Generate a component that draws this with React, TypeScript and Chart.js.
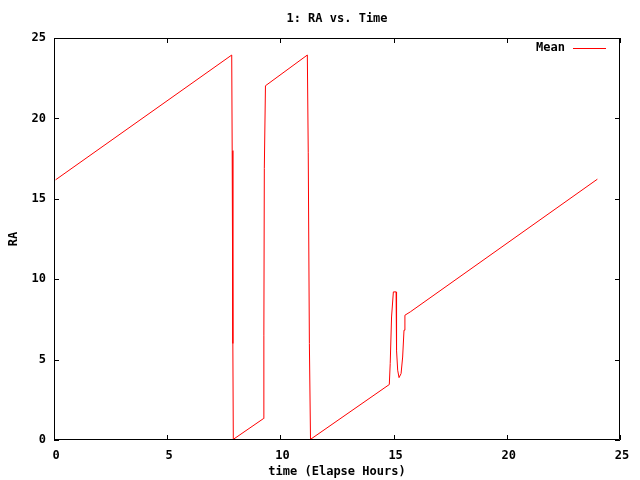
import React, { useEffect, useRef } from "react";
import { Chart, registerables } from "chart.js";

Chart.register(...registerables);

const chartTitle = "1: RA vs. Time";
const xAxisTitle = "time (Elapse Hours)";
const yAxisTitle = "RA";
const seriesLabel = "Mean";

const times = [0.07, 7.85, 7.87, 7.9, 7.92, 9.25, 9.27, 9.29, 9.34, 11.19, 11.23, 11.28, 11.33, 14.81, 14.85, 14.91, 14.99, 15.11, 15.13, 15.18, 15.24, 15.33, 15.4, 15.46, 15.5, 15.74, 24.0];
const meanRA = [16.18, 23.94, 18.0, 6.0, 0.04, 1.33, 6.52, 16.89, 22.03, 23.94, 17.86, 6.0, 0.04, 3.45, 4.75, 7.65, 9.21, 9.21, 5.58, 4.34, 3.88, 4.13, 5.16, 6.83, 7.76, 7.97, 16.22];

const xMin = 0;
const xMax = 25;
const yMin = 0;
const yMax = 25;
const tickStep = 5;

const FONT = "'DejaVu Sans Mono', 'Liberation Mono', monospace";
const LINE_COLOR = "#ff0000";

const framePlugin = {
  id: "gnuplotFrame",
  afterDatasetsDraw(chart: any) {
    const { ctx, chartArea, scales } = chart;
    const { left, right, top, bottom } = chartArea;
    ctx.save();
    ctx.strokeStyle = "#000000";
    ctx.lineWidth = 1;
    ctx.beginPath();
    ctx.rect(left + 0.5, top + 0.5, right - left - 1, bottom - top - 1);
    ctx.stroke();
    const tl = 5;
    ctx.beginPath();
    scales.x.ticks.forEach((t: any) => {
      const px = Math.round(scales.x.getPixelForValue(t.value)) + 0.5;
      ctx.moveTo(px, bottom);
      ctx.lineTo(px, bottom - tl);
      ctx.moveTo(px, top);
      ctx.lineTo(px, top + tl);
    });
    scales.y.ticks.forEach((t: any) => {
      const py = Math.round(scales.y.getPixelForValue(t.value)) + 0.5;
      ctx.moveTo(left, py);
      ctx.lineTo(left + tl, py);
      ctx.moveTo(right, py);
      ctx.lineTo(right - tl, py);
    });
    ctx.stroke();

    // title
    ctx.fillStyle = "#000000";
    ctx.font = `bold 12px ${FONT}`;
    ctx.textAlign = "center";
    ctx.textBaseline = "middle";
    ctx.fillText(chartTitle, (left + right) / 2, 19);

    // legend
    const ds = chart.data.datasets[0];
    ctx.textAlign = "right";
    ctx.fillText(ds.label, 565, 48);
    ctx.strokeStyle = ds.borderColor;
    ctx.beginPath();
    ctx.moveTo(573, 48.5);
    ctx.lineTo(606, 48.5);
    ctx.stroke();
    ctx.restore();
  },
};

export default function App() {
  const canvasRef = useRef<HTMLCanvasElement | null>(null);

  useEffect(() => {
    if (!canvasRef.current) return;
    const points = times.map((t, i) => ({ x: t, y: meanRA[i] }));
    const chart = new Chart(canvasRef.current, {
      type: "line",
      data: {
        datasets: [
          {
            label: seriesLabel,
            data: points,
            borderColor: LINE_COLOR,
            backgroundColor: LINE_COLOR,
            borderWidth: 1,
            pointRadius: 0,
            tension: 0,
            fill: false,
          },
        ],
      },
      options: {
        animation: false,
        responsive: false,
        devicePixelRatio: 1,
        layout: { padding: { top: 38, right: 20, left: 0, bottom: 0 } },
        plugins: {
          legend: { display: false },
          title: { display: false },
          tooltip: { enabled: false },
        },
        scales: {
          x: {
            type: "linear",
            min: xMin,
            max: xMax,
            grid: { display: false, drawTicks: false },
            border: { display: false },
            afterFit: (s: any) => {
              s.height = 40;
            },
            ticks: {
              stepSize: tickStep,
              color: "#000000",
              padding: 9,
              labelOffset: 2,
              maxRotation: 0,
              font: { family: FONT, size: 12, weight: "bold" },
            },
            title: {
              display: true,
              text: xAxisTitle,
              color: "#000000",
              padding: { top: 0, bottom: 1 },
              font: { family: FONT, size: 12, weight: "bold" },
            },
          },
          y: {
            type: "linear",
            min: yMin,
            max: yMax,
            grid: { display: false, drawTicks: false },
            border: { display: false },
            afterFit: (s: any) => {
              s.width = 54;
            },
            ticks: {
              stepSize: tickStep,
              color: "#000000",
              padding: 8,
              font: { family: FONT, size: 12, weight: "bold" },
            },
            title: {
              display: true,
              text: yAxisTitle,
              color: "#000000",
              padding: { top: 7, bottom: 0 },
              font: { family: FONT, size: 12, weight: "bold" },
            },
          },
        },
      },
      plugins: [framePlugin],
    });
    return () => chart.destroy();
  }, []);

  return (
    <div style={{ position: "fixed", left: 0, top: 0, width: 640, height: 480, background: "#ffffff" }}>
      <canvas ref={canvasRef} width={640} height={480} style={{ width: 640, height: 480, display: "block" }} />
    </div>
  );
}
